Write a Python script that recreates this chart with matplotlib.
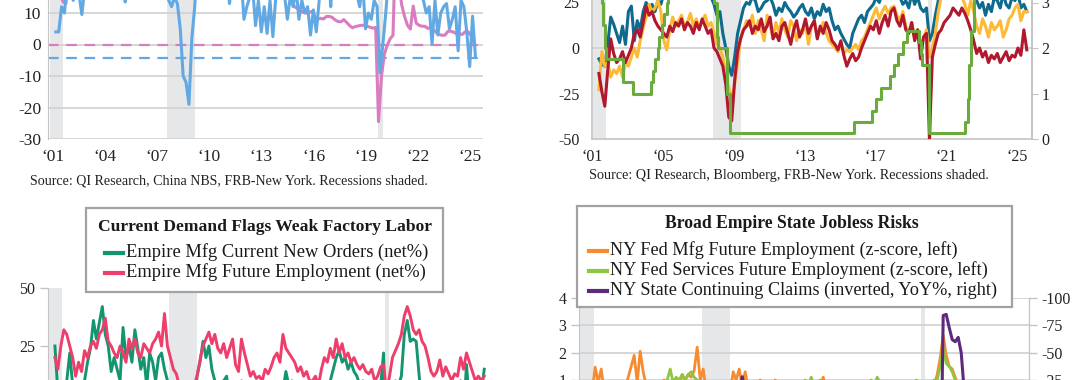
import numpy as np
import pandas as pd
import matplotlib
matplotlib.use("Agg")
import matplotlib.pyplot as plt
from matplotlib.patches import Rectangle
from matplotlib.lines import Line2D

plt.rcParams['font.family'] = ['Liberation Serif', 'DejaVu Serif']
plt.rcParams['axes.unicode_minus'] = False

nan = np.nan
# ---------------------------------------------------------------- data
recessions = [(2001.17, 2001.92), (2007.92, 2009.50), (2020.08, 2020.33)]

# Top-left panel: blue (net%, Jan/Mar/May/Jul/Sep/Nov), pink China FAI YTD % (Feb/Apr/.../Dec)
tl_blue = [
    nan, nan, nan, 4, 4, 12,            # 2001
    10, 22, 25, 14, 20, 16,             # 2002
    9.5, 18, 28, 30, 27, 32,            # 2003
    35, 30, 28, 26, 30, 28,             # 2004
    25, 22, 20, 13.5, 24, 28,           # 2005
    30, 27, 25, 22, 24, 26,             # 2006
    28, 25, 30, 27, 22, 18,             # 2007
    14, 12, 15, 13, 5, -10,             # 2008
    -12, -19, 2, 12, 28, 35,            # 2009
    38, 33, 30, 20, 18, 22,             # 2010
    30, 35, 25, 13, 20, 18,             # 2011
    25, 22, 8, 12, 15, 18,              # 2012
    6, 14, 4, 12, 3.5, 14,              # 2013
    2.5, 15, 20, 22, 16, 8,             # 2014
    15, 12, 18, 8, 14, 10,              # 2015
    12, 3, 11, 4, 14, 22,               # 2016
    18, 25, 12, 28, 26, 24,             # 2017
    30, 25, 20, 22, 18, 16,             # 2018
    12, 20, 5, 10, 8, 14,               # 2019
    12, -9, 0, 10, 22, 30,              # 2020
    35, 40, 38, 30, 32, 35,             # 2021
    30, 25, 20, 18, 14, 10,             # 2022
    12, 0, 14, 3, 10, 12,               # 2023
    13, 5, 8, 12, -2, 14,               # 2024
    12, 4, -7, 9, -4,                   # 2025
]
tl_pink = [
    15, 16, 17, 17, 16, 13.5,           # 2001
    13, 22, 23, 22, 22, 17,             # 2002
    27, 30, 33, 31, 30, 28,             # 2003
    53, 43, 28, 30, 28, 28,             # 2004
    25, 26, 28, 27, 28, 27,             # 2005
    27, 30, 31, 28, 27, 24,             # 2006
    24, 25, 27, 27, 27, 26,             # 2007
    24, 26, 27, 28, 27, 26,             # 2008
    27, 30, 33, 33, 33, 31,             # 2009
    27, 26, 25, 24, 25, 25,             # 2010
    25, 25, 26, 25, 25, 24,             # 2011
    21, 20, 20, 20, 21, 21,             # 2012
    21, 21, 20, 20, 20, 20,             # 2013
    18, 17, 17, 17, 16, 16,             # 2014
    14, 12, 11.4, 10.9, 10.2, 10,       # 2015
    10.2, 10.5, 9, 8.1, 8.3, 8.1,       # 2016
    8.9, 8.9, 8.6, 7.8, 7.3, 7.2,       # 2017
    7.9, 7.0, 6.0, 5.3, 5.7, 5.9,       # 2018
    6.1, 6.1, 5.8, 5.5, 5.2, 5.4,       # 2019
    -24.5, -10.3, -3.1, -0.3, 1.8, 2.9, # 2020
    35, 19.9, 12.6, 8.9, 6.1, 4.9,      # 2021
    12.2, 6.8, 6.1, 5.8, 5.8, 5.1,      # 2022
    5.5, 4.7, 3.8, 3.2, 2.9, 3.0,       # 2023
    4.2, 4.2, 3.9, 3.4, 3.4, 3.2,       # 2024
    4.1, 4.0, 2.8, 0.5,                 # 2025
]
tl_blue_ref = -4.2
tl_pink_ref = 0.0
tl_yticks = [-30, -20, -10, 0, 10]
tl_xlabels = ["‘01", "‘04", "‘07", "‘10", "‘13", "‘16", "‘19", "‘22", "‘25"]
tl_xyears = [2001, 2004, 2007, 2010, 2013, 2016, 2019, 2022, 2025]

# Top-right panel: teal / yellow / red (net%, left), green fed funds (%, right)
tr_teal = [
    nan, nan, nan, -6, -9, -10,
    2, 17, 13, 8, 3, 12,
    2, 20, 23, 4, 15, 10,
    20, 25, 22, 24, 20, 26,
    24, 30, 28, 32, 30, 35,
    33, 30, 35, 32, 30, 28,
    32, 30, 34, 33, 30, 28,
    24, 18, 20, 8, 0, -10,
    -15, -5, 8, 15, 22, 25,
    24, 28, 26, 20, 22, 25,
    26, 28, 24, 18, 22, 20,
    25, 22, 20, 17, 19, 22,
    24, 20, 18, 22, 16, 20,
    18, 24, 20, 22, 15, 10,
    12, 8, 5, 2, 0, 8,
    12, 16, 18, 14, 20, 22,
    24, 28, 25, 30, 32, 28,
    34, 30, 32, 28, 24, 26,
    22, 30, 24, 28, 22, 20,
    22, 4, 8, 18, 26, 30,
    35, 40, 45, 42, 38, 36,
    35, 30, 28, 32, 34, 26,
    22, 25, 18, 24, 20, 28,
    26, 22, 30, 24, 22, 28,
    26, 30, 22, 24, 20,
]
tr_yellow = [
    nan, nan, nan, -23, -2, -10,
    -8, -16, -12, -14, -10, -16,
    -8, -10, -5, 0, -5, 4,
    11, 17, 24, 20, 22, 26,
    20, 4, -1, 10, 17, 12,
    15, 18, 12, 14, 19, 12,
    16, 11, 15, 18, 12, 14,
    8, 2, 0, -5, -15, -22,
    -28, -20, -8, 5, 10, 15,
    12, 18, 8, 15, 10, 4,
    18, 12, 6, 14, 8, 16,
    10, 6, 15, 12, 4, 10,
    8, 14, 2, 12, 15, 6,
    10, 14, 8, 4, 2, 0,
    -2, 2, -3, -1, -2, 0,
    2, -1, 4, 6, 10, 14,
    18, 22, 16, 20, 23, 19,
    22, 23, 18, 15, 20, 12,
    8, 14, 5, 10, -1, 6,
    10, -5, 0, 8, 20, 28,
    30, 35, 32, 28, 30, 32,
    28, 24, 18, 26, 20, 12,
    8, 16, 12, 6, 14, 10,
    12, 15, 6, 10, 16, 18,
    22, 24, 15, 20, 20,
]
tr_red = [
    nan, nan, nan, -14, -24, -32,
    -12, 5, -3, -8, -6, -2,
    -8, -4, 0, 8, 10, 6,
    14, 23, 18, 20, 15, 12,
    10, 8, 6, 12, 9, 14,
    12, 16, 10, 14, 12, 8,
    14, 10, 16, 12, 8, 10,
    0, -2, -6, -10, -20, -38,
    -40, -18, -2, 5, 10, 12,
    15, 8, 12, 10, 16, 9,
    12, 17, 5, 8, 4, 12,
    14, 8, 2, 10, 15, 6,
    10, 16, 8, 12, 15, 5,
    12, 8, 14, 10, 4, 2,
    -1, 4, -4, -10, -6, -3,
    -7, -5, 0, 4, 8, 12,
    10, 15, 8, 14, 18, 12,
    20, 22, 15, 12, 18, 10,
    8, 14, 4, 10, -6, 6,
    8, -50, -5, 2, 8, 10,
    14, 16, 18, 22, 20, 18,
    22, 19, 15, 10, 4, -3,
    0, -5, -2, -8, -4, -6,
    -3, -8, -5, -2, -7, -4,
    -5, 0, -4, 10, -1,
]
ff_month = ['2001-01', '2001-02', '2001-03', '2001-04', '2001-05', '2001-06', '2001-08',
            '2001-09', '2001-10', '2001-11', '2001-12', '2002-11', '2003-06', '2004-06',
            '2004-08', '2004-09', '2004-11', '2004-12', '2005-02', '2005-03', '2005-05',
            '2005-06', '2005-08', '2005-09', '2005-11', '2005-12', '2006-01', '2006-03',
            '2006-05', '2006-06', '2007-09', '2007-10', '2007-12', '2008-01', '2008-03',
            '2008-04', '2008-10', '2008-12', '2015-12', '2016-12', '2017-03', '2017-06',
            '2017-12', '2018-03', '2018-06', '2018-09', '2018-12', '2019-08', '2019-09',
            '2019-10', '2020-03', '2022-03', '2022-05', '2022-06', '2022-07', '2022-09',
            '2022-11', '2022-12', '2023-02', '2023-03', '2023-05', '2023-07', '2024-09',
            '2024-11', '2024-12', '2025-09', '2025-10']
ff_rate = [6.0, 5.5, 5.0, 4.5, 4.0, 3.75, 3.5,
           3.0, 2.5, 2.0, 1.75, 1.25, 1.0, 1.25,
           1.5, 1.75, 2.0, 2.25, 2.5, 2.75, 3.0,
           3.25, 3.5, 3.75, 4.0, 4.25, 4.5, 4.75,
           5.0, 5.25, 4.75, 4.5, 4.25, 3.0, 2.25,
           2.0, 1.0, 0.125, 0.375, 0.625, 0.875, 1.125,
           1.375, 1.625, 1.875, 2.125, 2.375, 2.125, 1.875,
           1.625, 0.125, 0.375, 0.875, 1.625, 2.375, 3.125,
           3.875, 4.375, 4.625, 4.875, 5.125, 5.375, 4.875,
           4.625, 4.375, 4.125, 4.125]
tr_lticks = [-50, -25, 0, 25]
tr_rticks = [0, 1, 2, 3]
tr_xlabels = ["‘01", "‘05", "‘09", "‘13", "‘17", "‘21", "‘25"]
tr_xyears = [2001, 2005, 2009, 2013, 2017, 2021, 2025]

# Bottom-left panel (net%)
bl_orders = [
    nan, nan, nan, 25, 5, -10,
    0, 10, 22, 8, 5, -2,
    0, 10, 18, 24, 36, 28,
    35, 42, 30, 25, 14, 20,
    15, 10, 33, 20, 25, 18,
    32, 24, 15, 20, 8, 22,
    18, 10, 20, 22, 15, 10,
    8, -5, -3, -10, -20, -30,
    -35, -25, -5, 12, 18, 27,
    20, 25, 15, 10, 5, 0,
    10, 12, 0, -5, 5, 8,
    10, 5, 0, -5, 0, 3,
    5, 0, 2, 5, 8, 3,
    8, 0, 6, 14, 8, 10,
    5, 0, -5, -2, -10, -5,
    0, 5, -2, 5, 0, 8,
    10, 15, 20, 23, 18, 20,
    15, 18, 14, 12, 8, 10,
    5, 2, -5, 5, 0, 8,
    22, -40, -60, 5, 10, 8,
    12, 30, 36, 27, 28, 27,
    12, 0, -10, 5, -5, -8,
    5, -10, -5, 0, -5, 8,
    5, -2, 10, -5, 17, 0,
    -5, -8, -15, 5, 15,
]
bl_employ = [
    nan, nan, nan, 20, 15, 25,
    32, 30, 25, 20, 12, 18,
    14, 23, 20, 25, 27, 24,
    30, 32, 37, 27, 25, 22,
    20, 25, 22, 18, 28, 24,
    28, 22, 20, 26, 24, 22,
    26, 28, 31, 25, 39, 25,
    20, 15, 13, 8, 5, 0,
    -5, 0, 8, 12, 19, 25,
    28, 31, 26, 30, 24, 22,
    26, 20, 24, 28, 17, 14,
    28, 22, 17, 12, 14, 11,
    12, 10, 15, 13, 16, 20,
    22, 18, 30, 24, 22, 20,
    18, 14, 16, 12, 14, 10,
    10, 12, 8, 15, 20, 18,
    24, 20, 28, 22, 26, 20,
    22, 18, 20, 17, 15, 17,
    14, 13, 15, 10, 12, 16,
    17, 5, 12, 20, 23, 26,
    30, 38, 42, 38, 32, 30,
    32, 27, 25, 20, 14, 12,
    14, 19, 12, 16, 13, 10,
    13, 12, 20, 15, 22, 18,
    14, 10, 12, 10, 12,
]
bl_yticks = [25, 50]

# Bottom-right panel: z-scores (left) and NY continuing claims YoY% (right, inverted)
br_mfg = [
    nan, nan, nan, 0.8, 0.3, 0.6,
    1.47, 0.9, 1.4, 0.6, 0.3, 0.2,
    0.5, 0.2, 0.6, 0.8, 0.7, 1.1,
    1.5, 1.9, 0.9, 2.05, 1.3, 0.8,
    0.9, 0.6, 0.5, 0.7, 0.9, 1.0,
    0.8, 0.9, 0.7, 1.0, 0.8, 1.2,
    1.0, 1.2, 1.1, 1.35, 2.2, 1.0,
    1.4, 0.6, 0.3, -0.2, -0.8, -1.5,
    -1.8, -1.0, -0.2, 0.6, 1.3, 1.0,
    1.4, 0.8, 1.3, 0.7, 0.9, 0.6,
    0.8, 1.0, 0.4, 0.2, 0.5, 0.3,
    1.0, 0.7, 0.5, 0.2, 0.1, 0.3,
    0.4, 0.5, 0.2, 0.6, 0.7, 0.5,
    0.9, 0.6, 0.8, 0.7, 1.1, 0.5,
    0.6, 0.4, 0.3, 0.2, 0.0, 0.3,
    0.2, 0.4, 0.6, 0.5, 0.7, 0.8,
    0.9, 0.8, 0.9, 0.7, 0.8, 0.9,
    0.8, 0.7, 0.8, 0.6, 0.7, 0.5,
    0.4, 0.3, 0.2, 0.1, 0.3, 0.4,
    0.5, -1.5, -0.5, 0.3, 0.6, 0.8,
    1.2, 1.8, 2.65, 1.9, 1.5, 1.4,
    1.1, 0.8, 0.5, 0.3, 0.1, 0.0,
    0.2, 0.3, 0.1, 0.4, 0.2, 0.3,
    0.1, 0.3, 0.5, 0.2, 0.6, 0.4,
    0.3, 0.0, -0.3, 0.2, 0.1,
]
br_svc = [
    nan, nan, nan, nan, nan, nan,
    nan, nan, nan, nan, nan, nan,
    nan, nan, nan, nan, nan, nan,
    nan, nan, nan, nan, nan, nan,
    nan, nan, nan, nan, 0.8, 0.9,
    1.0, 1.4, 0.9, 1.1, 1.0, 1.2,
    1.0, 1.2, 1.3, 1.1, 1.0, 0.9,
    0.8, 0.5, 0.2, -0.3, -0.8, -1.3,
    -1.5, -1.0, -0.3, 0.3, 0.6, 0.8,
    0.7, 0.9, 0.8, 0.6, 0.7, 0.5,
    0.6, 0.7, 0.5, 0.3, 0.4, 0.5,
    0.5, 0.6, 0.4, 0.3, 0.4, 0.3,
    0.5, 0.6, 0.7, 0.6, 1.0, 0.8,
    1.1, 0.8, 0.9, 1.0, 0.8, 0.7,
    0.6, 0.5, 0.6, 0.7, 0.5, 0.6,
    0.7, 0.8, 0.6, 0.7, 0.8, 0.9,
    0.8, 0.9, 1.0, 0.8, 1.1, 0.9,
    0.9, 0.8, 0.9, 0.7, 0.8, 0.9,
    0.8, 0.7, 0.6, 0.8, 0.7, 1.0,
    0.9, -2.0, -0.8, 0.4, 0.7, 1.0,
    1.0, 1.5, 2.2, 1.6, 1.5, 1.3,
    1.0, 0.8, 0.6, 0.5, 0.3, 0.2,
    0.3, 0.4, 0.3, 0.2, 0.3, 0.1,
    0.2, 0.3, 0.1, 0.0, 0.2, 0.3,
    0.1, -0.2, -0.4, 0.0, 0.1,
]
br_claims = [
    10, 20, 30, 40, 45, 50,
    40, 30, 15, 10, 5, 0,
    5, 0, -2, -5, -8, -10,
    -12, -10, -8, -10, -6, -5,
    -6, -5, -4, -3, -5, -2,
    -4, -2, 0, -3, -2, 0,
    2, 3, 1, 4, 5, 8,
    10, 12, 15, 20, 30, 45,
    60, 70, 55, 40, 20, 0,
    -10, -28, -15, -12, -10, -8,
    -8, -6, -5, -4, -5, -3,
    -4, -5, -3, -2, -4, -5,
    -5, -6, -4, -5, -7, -6,
    -8, -10, -9, -8, -7, -6,
    -6, -5, -6, -4, -5, -3,
    -4, -3, -2, -3, -4, -2,
    -3, -4, -2, -3, -1, -2,
    -3, -2, -4, -3, -2, -1,
    0, 1, 2, 1, 0, 2,
    3, 50, 600, 500, 400, 300,
    200, 100, -84, -85, -73, -62,
    -60, -64, -50, -15, -10, -5,
    0, 5, 8, 6, 4, 5,
    6, 5, 4, 6, 5, 3,
    4, 5, 3, 4, 2,
]
br_lticks = [1, 2, 3, 4]
br_rticks = [-100, -75, -50, -25]

# ---------------------------------------------------------------- helpers
W, H = 1080, 380
fig = plt.figure(figsize=(W / 100, H / 100), dpi=100)
renderer = fig.canvas.get_renderer()


def fx(x):
    return x / W


def fy(y):
    return 1 - y / H


def add_ax(left_px, right_px, bottom_px, height_px):
    return fig.add_axes([fx(left_px), fy(bottom_px), (right_px - left_px) / W, height_px / H])


def times(n, first_month):
    m = first_month + 2 * np.arange(n)
    return 2001 + m / 12.0


def month_to_year(s):
    d = pd.to_datetime(pd.Series(s))
    return (d.dt.year + (d.dt.month - 1) / 12.0).to_numpy(dtype=float)


def shade(ax):
    for a, b in recessions:
        ax.axvspan(a, b, color='#E6E7E9', lw=0, zorder=0)


def fit_size(strings, target, weight='normal'):
    widest = max(strings, key=len)
    t = fig.text(0, 0, widest, fontsize=10, fontweight=weight)
    w = t.get_window_extent(renderer).width
    t.remove()
    return 10 * target / w


GRID = '#D3D3D3'
SPINE = '#C4C4C4'
TXT = '#222222'
TICK_BIG = 12.5
TICK = 11.5

# ---------------------------------------------------------------- top-left
ax = add_ax(48, 483, 139, 80 * 3.15)
shade(ax)
ax.set_xlim(2001.05, 2026.1)
ax.set_ylim(-30, 50)
for v in range(-30, 51, 10):
    ax.axhline(v, color=GRID, lw=1.3, zorder=1)
ax.axhline(tl_pink_ref, color='#D97CC0', lw=1.6, dashes=(4.8, 3.4), zorder=2)
ax.axhline(tl_blue_ref, color='#62A9E4', lw=1.6, dashes=(4.8, 3.4), zorder=2)
ax.plot(times(len(tl_pink), 1), tl_pink, color='#D97CC0', lw=2.2, zorder=3)
ax.plot(times(len(tl_blue), 0), tl_blue, color='#62A9E4', lw=2.2, zorder=4)
ax.set_yticks(tl_yticks)
ax.set_yticklabels([str(v) for v in tl_yticks])
for s in ['top', 'right', 'bottom']:
    ax.spines[s].set_visible(False)
ax.spines['left'].set_color(SPINE)
ax.tick_params(axis='both', length=0, colors=TXT)
ax.tick_params(axis='y', labelsize=TICK_BIG, pad=5)
ax.set_xticks([y + 0.34 for y in tl_xyears])
ax.set_xticklabels(tl_xlabels, fontsize=TICK_BIG)
ax.tick_params(axis='x', pad=7)
src1 = "Source: QI Research, China NBS, FRB-New York. Recessions shaded."
fig.text(fx(30), fy(181), src1, fontsize=fit_size([src1], 398), color=TXT, ha='left', va='center')

# ---------------------------------------------------------------- top-right
ax2 = add_ax(592, 1032, 139, 125 * 1.82)
shade(ax2)
ax2.set_xlim(2001.11, 2025.96)
ax2.set_ylim(-50, 75)
ax2.axhline(0, color=GRID, lw=1.3, zorder=1)
tt = times(len(tr_teal), 0)
ax2.plot(tt, tr_teal, color='#0E6A8E', lw=2.2, zorder=3)
ax2.plot(tt, tr_yellow, color='#FDBA35', lw=2.2, zorder=4)
ax2.plot(tt, tr_red, color='#B1182E', lw=2.2, zorder=5)
ax2.set_yticks(tr_lticks)
ax2.set_yticklabels([str(v) for v in tr_lticks])
ax2.tick_params(axis='y', length=0, labelsize=TICK, pad=9, colors=TXT)
ax2.set_xticks([y + 0.13 for y in tr_xyears])
ax2.set_xticklabels(tr_xlabels, fontsize=TICK)
ax2.tick_params(axis='x', length=0, pad=7, colors=TXT)
ax2.spines['top'].set_visible(False)
for s in ['left', 'right', 'bottom']:
    ax2.spines[s].set_color(SPINE)
    ax2.spines[s].set_linewidth(1.2)
axr = ax2.twinx()
axr.set_ylim(0, 5)
axr.plot(month_to_year(ff_month), ff_rate, color='#6BAA3C', lw=2.2, drawstyle='steps-post', zorder=6)
axr.set_yticks(tr_rticks)
axr.set_yticklabels([str(v) for v in tr_rticks])
axr.tick_params(axis='y', length=4, labelsize=TICK, pad=3, colors=TXT)
axr.tick_params(axis='y', color=SPINE)
for s in ['top', 'left', 'bottom']:
    axr.spines[s].set_visible(False)
axr.spines['right'].set_color(SPINE)
axr.spines['right'].set_linewidth(1.2)
src2 = "Source: QI Research, Bloomberg, FRB-New York. Recessions shaded."
fig.text(fx(589), fy(175), src2, fontsize=fit_size([src2], 399), color=TXT, ha='left', va='center')

# ---------------------------------------------------------------- bottom-left
ax3 = add_ax(48, 490, 288 + 120 * 2.32, 120 * 2.32)
shade(ax3)
ax3.set_xlim(2001.11, 2025.99)
ax3.set_ylim(-70, 50)
tb = times(len(bl_orders), 0)
ax3.plot(tb, bl_orders, color='#13966F', lw=2.1, zorder=3)
ax3.plot(tb, bl_employ, color='#EE3E6B', lw=2.1, zorder=4)
ax3.set_yticks(bl_yticks)
ax3.set_yticklabels([str(v) for v in bl_yticks])
ax3.tick_params(axis='y', length=6, width=1, labelsize=TICK, pad=3, colors=TXT)
ax3.tick_params(axis='y', color=SPINE)
ax3.set_xticks([])
for s in ['top', 'right', 'bottom']:
    ax3.spines[s].set_visible(False)
ax3.spines['left'].set_color(SPINE)

# ---------------------------------------------------------------- bottom-right
ax4 = add_ax(579, 1029, 298 + 7 * 27.33, 7 * 27.33)
shade(ax4)
ax4.set_xlim(2001.1, 2026.1)
ax4.set_ylim(-3, 4)
for v in range(-3, 5):
    ax4.axhline(v, color=GRID, lw=1.3, zorder=1)
tb4 = times(len(br_mfg), 0)
ax4.plot(tb4, br_mfg, color='#F68B30', lw=2.0, zorder=3)
ax4.plot(tb4, br_svc, color='#8DC641', lw=2.0, zorder=4)
ax4.set_yticks(br_lticks)
ax4.set_yticklabels([str(v) for v in br_lticks])
ax4.tick_params(axis='y', length=6, width=1, labelsize=TICK, pad=3, colors=TXT)
ax4.tick_params(axis='y', color=SPINE)
ax4.set_xticks([])
for s in ['top', 'bottom']:
    ax4.spines[s].set_visible(False)
for s in ['left', 'right']:
    ax4.spines[s].set_color(SPINE)
ax4r = ax4.twinx()
ax4r.set_ylim(75, -100)
ax4r.plot(tb4, br_claims, color='#5C2A7D', lw=2.2, zorder=5)
ax4r.set_yticks(br_rticks)
ax4r.set_yticklabels([str(v) for v in br_rticks])
ax4r.tick_params(axis='y', length=6, width=1, labelsize=TICK, pad=3, colors=TXT)
ax4r.tick_params(axis='y', color=SPINE)
for s in ['top', 'bottom', 'left']:
    ax4r.spines[s].set_visible(False)
ax4r.spines['right'].set_color(SPINE)


# ---------------------------------------------------------------- legend boxes
def legend_box(x0, x1, y0, y1, title, title_cx, title_y, title_w, entries, hx0, hx1, tx, ys, entry_w):
    fig.patches.append(Rectangle((fx(x0), fy(y1)), (x1 - x0) / W, (y1 - y0) / H,
                                 transform=fig.transFigure, facecolor='white',
                                 edgecolor='#A2A2A2', lw=1.6, zorder=10))
    fig.text(fx(title_cx), fy(title_y), title, fontsize=fit_size([title], title_w, 'bold'),
             fontweight='bold', ha='center', va='center', color='#1a1a1a', zorder=11)
    size = fit_size([e[0] for e in entries], entry_w)
    for (label, color), y in zip(entries, ys):
        fig.lines.append(Line2D([fx(hx0), fx(hx1)], [fy(y + 1), fy(y + 1)], transform=fig.transFigure,
                                color=color, lw=3.0, zorder=11))
        fig.text(fx(tx), fy(y), label, fontsize=size, ha='left', va='center', color='#1a1a1a', zorder=11)


legend_box(86, 443, 208, 292, "Current Demand Flags Weak Factory Labor", 265, 227, 334,
           [("Empire Mfg Current New Orders (net%)", '#13966F'),
            ("Empire Mfg Future Employment (net%)", '#EE3E6B')],
           105, 123, 126, [252, 272], 302)

legend_box(577, 1012, 206, 307, "Broad Empire State Jobless Risks", 792, 224, 254,
           [("NY Fed Mfg Future Employment (z-score, left)", '#F68B30'),
            ("NY Fed Services Future Employment (z-score, left)", '#8DC641'),
            ("NY State Continuing Claims (inverted, YoY%, right)", '#5C2A7D')],
           589, 607, 610, [250, 270, 290], 388)

fig.savefig('out.png', dpi=100, facecolor='white')
